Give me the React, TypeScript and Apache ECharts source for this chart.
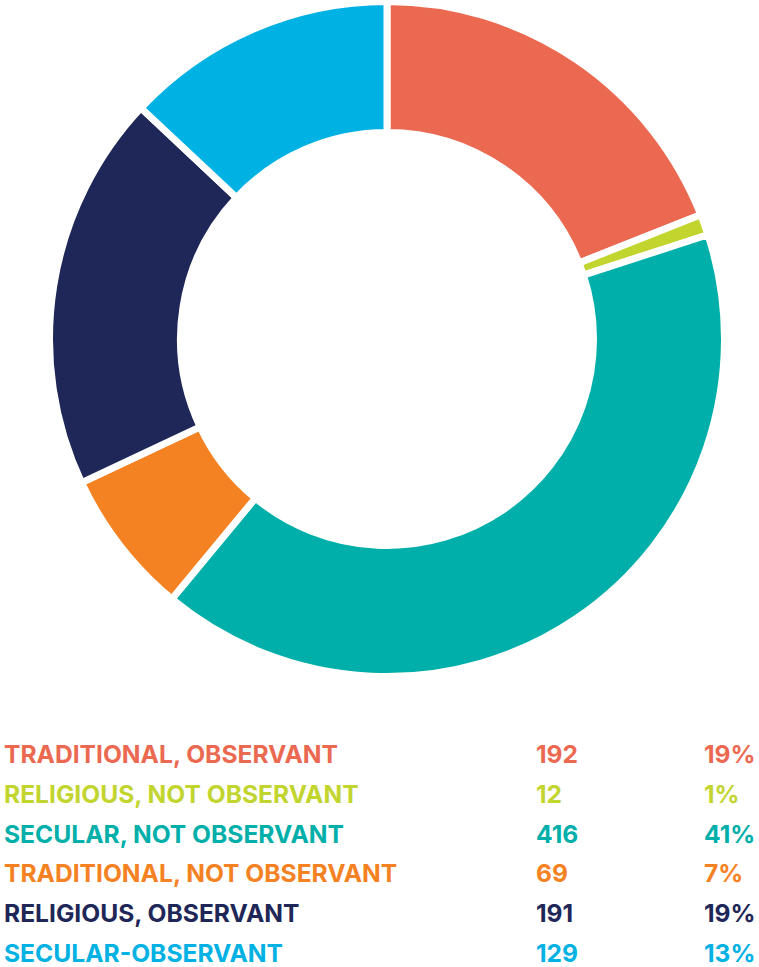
import React, { useEffect, useRef } from "react";
import * as echarts from "echarts";

const categories = [
  "TRADITIONAL, OBSERVANT",
  "RELIGIOUS, NOT OBSERVANT",
  "SECULAR, NOT OBSERVANT",
  "TRADITIONAL, NOT OBSERVANT",
  "RELIGIOUS, OBSERVANT",
  "SECULAR-OBSERVANT",
];
const counts = [192, 12, 416, 69, 191, 129];
const percents = [19, 1, 41, 7, 19, 13];
const colors = ["#EC6951", "#C2D52F", "#00AFAA", "#F58222", "#1E2757", "#00B1E3"];

export default function App() {
  const ref = useRef<HTMLDivElement>(null);
  useEffect(() => {
    if (!ref.current) return;
    const chart = echarts.init(ref.current, undefined, { renderer: "svg" });
    const font = "Inter, Roboto, 'Noto Sans', sans-serif";
    const rowY0 = 754;
    const rowStep = 39.8;
    const graphics: any[] = [];
    categories.forEach((c, i) => {
      const y = rowY0 + i * rowStep;
      const base = {
        fill: colors[i],
        font: `bold 24.6px ${font}`,
        textVerticalAlign: "middle",
      };
      graphics.push({ type: "text", x: 4, y, style: { ...base, text: c, textAlign: "left" } });
      graphics.push({ type: "text", x: 536, y, style: { ...base, text: String(counts[i]), textAlign: "left" } });
      graphics.push({ type: "text", x: 704, y, style: { ...base, text: `${percents[i]}%`, textAlign: "left" } });
    });
    const bw = 7;
    chart.setOption({
      animation: false,
      backgroundColor: "#ffffff",
      series: [
        {
          type: "pie",
          center: [387, 339],
          radius: [210 - bw / 2, 334 + bw / 2],
          startAngle: 90,
          clockwise: true,
          label: { show: false },
          labelLine: { show: false },
          emphasis: { disabled: true },
          itemStyle: { borderColor: "#ffffff", borderWidth: bw },
          data: categories.map((c, i) => ({
            name: c,
            value: percents[i],
            itemStyle: { color: colors[i] },
          })),
        },
      ],
      graphic: graphics,
    });
    return () => chart.dispose();
  }, []);
  return (
    <div
      ref={ref}
      style={{ position: "absolute", left: 0, top: 0, width: 759, height: 967 }}
    />
  );
}
